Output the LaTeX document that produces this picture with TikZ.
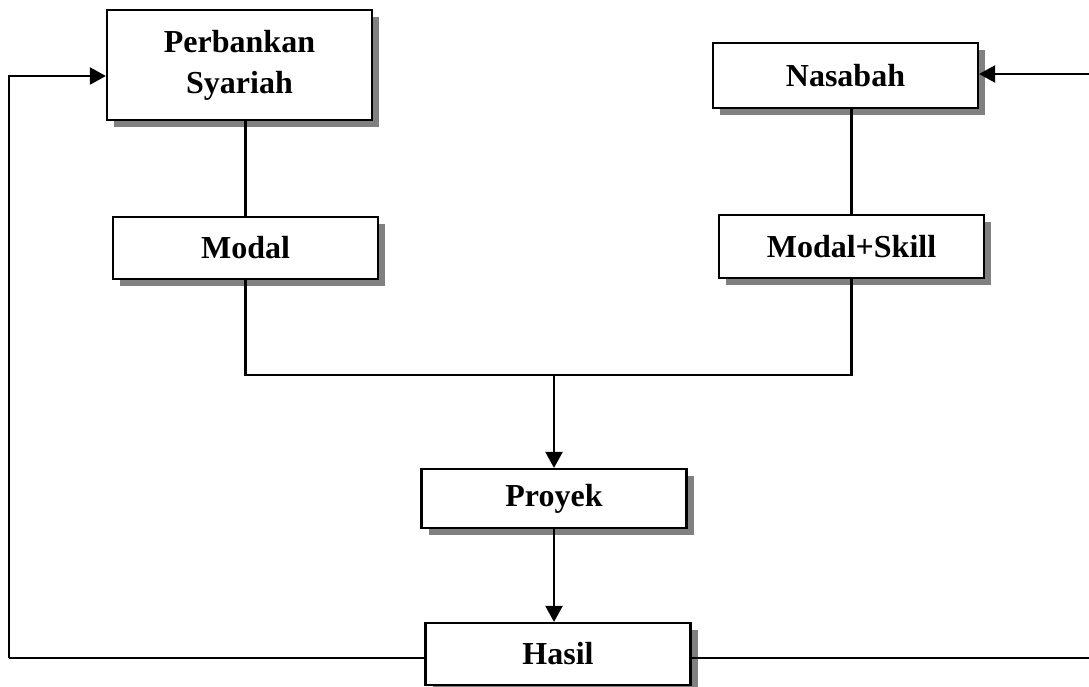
\documentclass[tikz,border=0pt]{standalone}
\usepackage{fontspec}
\setmainfont{Liberation Serif}
\usetikzlibrary{arrows.meta,shadows}
\definecolor{shadowgray}{RGB}{128,128,128}
\tikzset{
  box/.style={draw=black, line width=2.2pt, fill=white, rectangle, inner sep=0pt,
    minimum width=265pt, align=center,
    font=\fontsize{32}{41}\selectfont\bfseries,
    drop shadow={shadow xshift=7pt, shadow yshift=-7pt, fill=shadowgray, opacity=1}},
  link/.style={draw=black, line width=2.2pt},
  arr/.style={link, -{Triangle[length=16pt,width=17pt]}}
}
\begin{document}
\begin{tikzpicture}[x=1pt,y=-1pt]
\useasboundingbox (0,0) rectangle (1089,686);
\node[box, minimum height=110pt] (PS) at (239.5,65) {Perbankan\\Syariah};
\node[box, minimum height=65pt] (N) at (845.5,75.5) {Nasabah};
\node[box, minimum height=62pt] (M) at (245.5,248) {Modal};
\node[box, minimum height=63pt] (MS) at (851.5,246.5) {Modal+Skill};
\node[box, minimum height=59pt] (P) at (554,498.5) {Proyek};
\node[box, minimum height=62pt] (H) at (558,654) {Hasil};
\coordinate (J) at (554,375);
\coordinate (LB) at (9,658);
\coordinate (LT) at (9,76);
\coordinate (RB) at (1100,658);
\coordinate (RT) at (1100,74);
\draw[link] (M.north) -- (M.north |- PS.south);
\draw[link] (MS.north) -- (MS.north |- N.south);
\draw[link] (M.south) |- (J) -| (MS.south);
\draw[arr] (J) -- (P.north);
\draw[arr] (P.south) -- (P.south |- H.north);
\draw[link] (H.west |- LB) -- (LB);
\draw[arr] (LB) -- (LT) -- (PS.west |- LT);
\draw[link] (H.east |- RB) -- (RB);
\draw[arr] (RB) -- (RT) -- (N.east |- RT);
\end{tikzpicture}
\end{document}
